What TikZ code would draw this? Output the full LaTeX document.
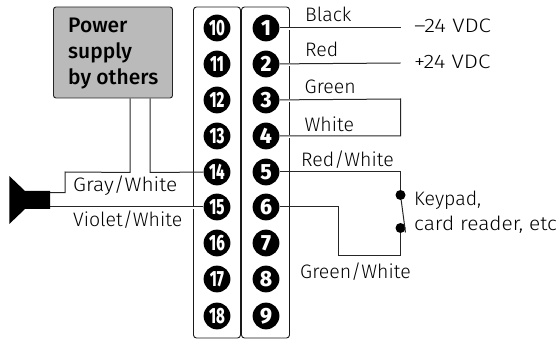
\documentclass[tikz,border=0pt]{standalone}
\usepackage{fontspec}
\setmainfont{Fira Sans Light}[BoldFont=Fira Sans Medium]
\newfontfamily\numfont{Fira Sans ExtraBold}[Numbers=Lining]
\tikzset{
  wire/.style={draw=black!85,line width=1pt},
  block/.style={draw=black!90,line width=0.9pt,rounded corners=3pt},
  pin/.style={circle,fill=black,text=white,minimum size=26.8pt,inner sep=0pt,font=\numfont\fontsize{22}{22}\selectfont},
  lab/.style={anchor=base west,inner sep=0pt,font=\fontsize{19.5}{19.5}\selectfont,text=black},
  head/.style={anchor=base west,inner sep=0pt,font=\bfseries\fontsize{21}{21}\selectfont,text=black},
  dot/.style={circle,fill=black,minimum size=10pt,inner sep=0pt},
}
\begin{document}
\begin{tikzpicture}[x=1pt,y=-1pt]
\useasboundingbox (0,0) rectangle (560,339);
\node[draw=black!85,line width=0.9pt,fill=black!27,rounded corners=2.5pt,minimum width=119pt,minimum height=91pt,inner sep=0pt] (ps) at (113,52.5) {};
\node[head] (t1) at (68,33) {Power};
\node[head] (t2) at (68,59) {supply};
\node[head] (t3) at (68,85) {by others};
\node[block,minimum width=47pt,minimum height=331pt,inner sep=0pt] (bl) at (217,172.5) {};
\node[block,minimum width=48pt,minimum height=331pt,inner sep=0pt] (br) at (265.5,172.5) {};
\foreach \n/\yy in {28,64,100,136}{
  \fill[white] (287,\yy-0.5) rectangle (292,\yy+2.5);
}
\fill[white] (191,207) rectangle (196,209.5);
\foreach \n/\yy in {1/28,2/64,3/100,4/136,5/172,6/207,7/243,8/279,9/316}{
  \node[pin] (p\n) at (266,\yy) {\scalebox{0.95}[1]{\n}};
}
\foreach \n/\yy in {10/28,11/64,12/100,13/136,14/172,15/207,16/243,17/279,18/316}{
  \node[pin] (p\n) at (217,\yy) {\scalebox{0.68}[1]{\n}};
}
\coordinate (e1) at (400.5,28);
\coordinate (e2) at (400.5,63);
\coordinate (e3) at (400.5,99);
\coordinate (e4) at (400.5,136);
\node[dot] (k1) at (400.5,195) {};
\node[dot] (k2) at (400.5,228) {};
\draw[wire] (p1) -- (e1);
\draw[wire] (p2) -- (e2);
\draw[wire] (p3) -- (e3) -- (e4) -- (p4);
\draw[wire] (p5) -| (k1);
\draw[wire] (p6) -- (338.3,207) |- (400.5,255.7) -- (k2);
\draw[wire] (k1) -- (405.5,232.5);
\path (ps.south) ++(17,0) coordinate (s1);
\path (ps.south) ++(37,0) coordinate (s2);
\draw[wire] (s1) -- ++(0,74) -- (65,172) -- (65,192.7) -- (50,192.7);
\draw[wire] (s2) -- ++(0,74) -- (p14);
\draw[wire] (50,207) -- (p15);
\fill[black] (9.3,176) -- (25,191) -- (50,191) -- (50,209) -- (25,209) -- (9.3,224) -- cycle;
\node[lab] (l1) at (305,21.7) {Black};
\node[lab] (l2) at (305,57) {Red};
\node[lab] (l3) at (304.5,94) {Green};
\node[lab] (l4) at (304.5,131.7) {White};
\node[lab] (l5) at (301,166.7) {Red/White};
\node[lab] (l6) at (300,279) {Green/White};
\node[lab] (l7) at (414,32.7) {\scalebox{1.15}[1]{–24 VDC}};
\node[lab] (l8) at (414,69) {\scalebox{1.15}[1]{+24 VDC}};
\node[lab] (l9) at (414,205.7) {Keypad,};
\node[lab] (l10) at (414,230.7) {\scalebox{1.07}[1]{card reader, etc}};
\node[lab] (l11) at (73,192) {\scalebox{1.07}[1]{Gray/White}};
\node[lab] (l12) at (73,227) {Violet/White};
\end{tikzpicture}
\end{document}
